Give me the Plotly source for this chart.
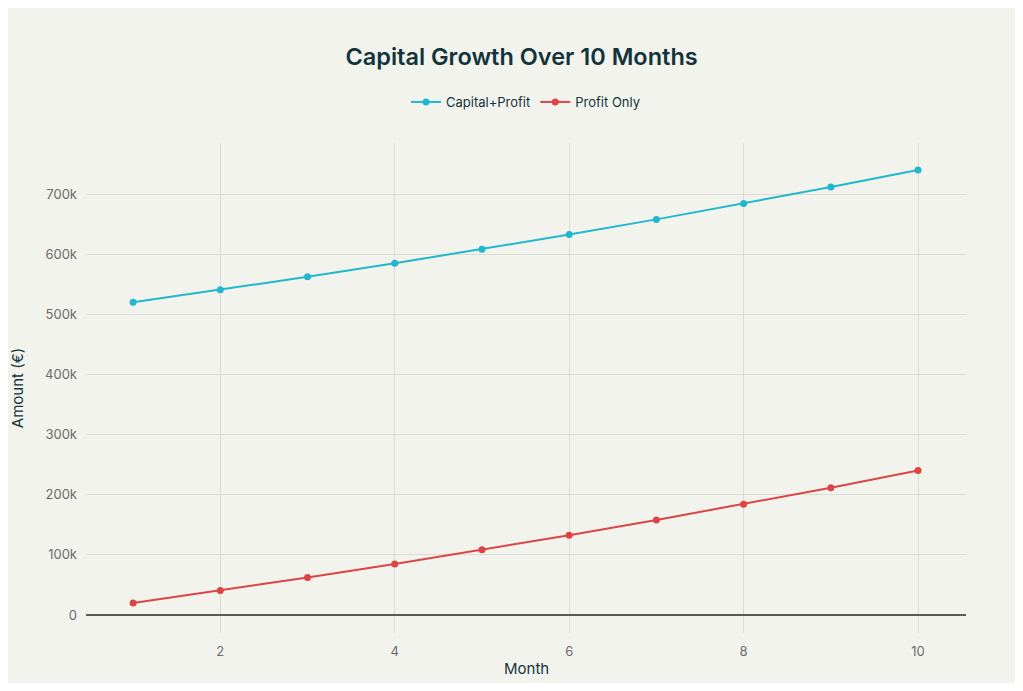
import plotly.graph_objects as go

months = [1, 2, 3, 4, 5, 6, 7, 8, 9, 10]
capital_profit = [520000, 540800, 562432, 584929, 608326, 632660, 657966, 684285, 711656, 740122]
profit_only = [20000, 40800, 62432, 84929, 108326, 132660, 157966, 184285, 211656, 240122]

fig = go.Figure()
fig.add_trace(go.Scatter(x=months, y=capital_profit, mode="lines+markers", name="Capital+Profit",
                         line=dict(color="#1FB8CD", width=2), marker=dict(size=7, color="#1FB8CD")))
fig.add_trace(go.Scatter(x=months, y=profit_only, mode="lines+markers", name="Profit Only",
                         line=dict(color="#DB4545", width=2), marker=dict(size=7, color="#DB4545")))

fig.update_layout(
    width=1007, height=675,
    paper_bgcolor="#F3F3EE", plot_bgcolor="#F3F3EE",
    font=dict(family="Inter, Open Sans, sans-serif", color="#13343B", size=13),
    title=dict(text="Capital Growth Over 10 Months", x=0.51, xanchor="center", y=0.9274, yanchor="middle",
               font=dict(size=23.5, color="#13343B", weight=600)),
    legend=dict(orientation="h", x=0.5, xanchor="center", y=1.0837, yanchor="middle",
                font=dict(size=13, color="#13343B"), bgcolor="rgba(0,0,0,0)"),
    margin=dict(l=78, r=49, t=135, b=50, autoexpand=False),
    xaxis=dict(range=[0.46, 10.55],
               tickvals=[2, 4, 6, 8, 10], showgrid=True, gridcolor="#DCDCD6", zeroline=False,
               showline=False, tickfont=dict(color="#6B6B6B", size=13), ticks="", ticklabelstandoff=9,
               automargin=False),
    yaxis=dict(title=dict(text="Amount (€)", font=dict(size=15), standoff=19), range=[-30000, 785000],
               tickvals=[0, 100000, 200000, 300000, 400000, 500000, 600000, 700000],
               ticktext=["0", "100k", "200k", "300k", "400k", "500k", "600k", "700k"],
               showgrid=True, gridcolor="#DCDCD6", zeroline=True, zerolinecolor="#5A5A5A", zerolinewidth=1.5,
               showline=False, tickfont=dict(color="#6B6B6B", size=13), ticks="", ticklabelstandoff=8,
               automargin=False),
    annotations=[dict(text="Month", xref="paper", yref="paper", x=0.5, y=-0.072, xanchor="center",
                      yanchor="middle", showarrow=False, font=dict(size=15, color="#13343B"))],
)

fig.write_html("out.html")
